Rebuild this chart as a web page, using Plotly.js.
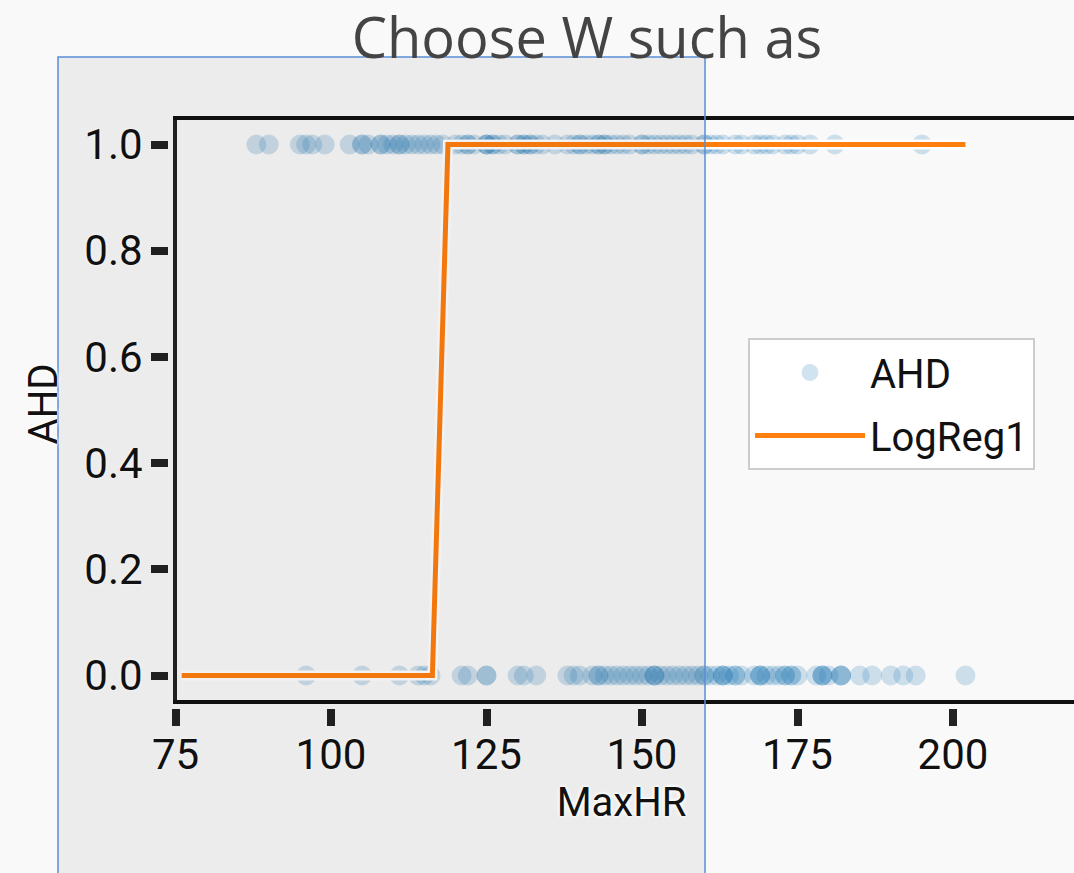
<!DOCTYPE html>
<html>
<head>
<meta charset="utf-8">
<script src="https://cdn.plot.ly/plotly-3.0.1.min.js"></script>
<style>html,body{margin:0;padding:0;background:#f9f9f9;}#chart{width:1074px;height:873px;}</style>
</head>
<body>
<div id="chart"></div>
<script>
// MaxHR of patients with AHD = Yes (plotted at 1.0)
var maxhr_ahd_yes = [88, 90, 95, 96, 97, 99, 103, 105, 105, 106, 108, 108, 109, 110, 111, 111, 112, 113, 114, 115, 116, 117, 118,
  120, 121, 122, 122, 123, 125, 125, 125, 126, 126, 127, 128, 130, 130, 131, 131, 132, 132, 133, 134, 136, 138, 139, 140, 140,
  141, 142, 143, 143, 144, 144, 145, 146, 147, 148, 150, 150, 151, 152, 153, 154, 155, 156, 157, 158, 160, 160, 161, 162, 163,
  165, 166, 168, 169, 170, 171, 173, 174, 175, 177, 181, 195];
// MaxHR of patients with AHD = No (plotted at 0.0)
var maxhr_ahd_no = [96, 105, 111, 114, 115, 116, 121, 122, 125, 125, 130, 131, 133, 138, 139, 140, 142, 143, 143, 144, 145, 146,
  147, 148, 149, 150, 151, 152, 152, 152, 153, 154, 155, 156, 157, 158, 159, 160, 160, 161, 162, 163, 163, 163, 164, 165, 165,
  166, 168, 169, 169, 169, 170, 171, 172, 173, 173, 174, 174, 175, 178, 179, 179, 179, 180, 182, 182, 182, 185, 187, 190, 192, 194, 202];
// LogReg1 fitted curve
var logreg_x = [76, 116.3, 118.8, 202];
var logreg_y = [0, 0, 1, 1];
// Tick values
var x_ticks = [75, 100, 125, 150, 175, 200];
var y_ticks = [0.0, 0.2, 0.4, 0.6, 0.8, 1.0];

var FONT = 'Roboto, "DejaVu Sans", sans-serif';
var HALO = '0 0 4px #ffffff, 0 0 4px #ffffff, 0 0 2px #ffffff';

var ptsX = maxhr_ahd_yes.concat(maxhr_ahd_no);
var ptsY = maxhr_ahd_yes.map(function(){return 1;}).concat(maxhr_ahd_no.map(function(){return 0;}));

var traces = [
  {type:'scatter', mode:'markers', name:'AHD', legendgroup:'a', x:ptsX, y:ptsY,
   marker:{size:19, color:'#1f77b4', opacity:0.2, line:{color:'#1f77b4', width:1}}, hoverinfo:'skip'},
  {type:'scatter', mode:'lines', name:'halo', legendgroup:'b', showlegend:false, x:logreg_x, y:logreg_y,
   line:{color:'#ffffff', width:10}, hoverinfo:'skip'},
  {type:'scatter', mode:'lines', name:'LogReg1', legendgroup:'b', x:logreg_x, y:logreg_y,
   line:{color:'#ff7f0e', width:5}, hoverinfo:'skip'}
];

var W = 905, H = 608, L = 169, B = 708;
function px(v){return (v - L)/W;}
function py(v){return (B - v)/H;}

var layout = {
  width:1074, height:873,
  paper_bgcolor:'#f9f9f9', plot_bgcolor:'#f9f9f9',
  margin:{l:169, r:0, t:100, b:165, pad:0},
  showlegend:true,
  title:{text:'Choose W such as', font:{family:'"Open Sans", sans-serif', size:56, color:'#444444'},
         xref:'container', x:587/1074, xanchor:'center', yref:'container', y:0.978, yanchor:'top'},
  xaxis:{range:[73.955, 219.45], tickvals:x_ticks, ticks:'outside', ticklen:17, tickwidth:8, tickcolor:'#222222',
         showline:false, showgrid:false, zeroline:false, ticklabelstandoff:-7,
         tickfont:{family:FONT, size:42, color:'#111111', shadow:HALO},
         title:{text:'MaxHR', standoff:7, font:{family:FONT, size:40, color:'#111111', shadow:HALO}}},
  yaxis:{range:[-0.0612, 1.0838], tickvals:y_ticks, tickformat:'.1f', ticks:'outside', ticklen:17, tickwidth:8, tickcolor:'#222222',
         showline:false, showgrid:false, zeroline:false, ticklabelstandoff:0,
         tickfont:{family:FONT, size:42, color:'#111111', shadow:HALO},
         title:{text:'AHD', standoff:14, font:{family:FONT, size:40, color:'#111111', shadow:HALO}}},
  legend:{x:px(748), y:py(338), xanchor:'left', yanchor:'top', bgcolor:'#ffffff', bordercolor:'#cccccc', borderwidth:2,
          itemwidth:110, tracegroupgap:8, font:{family:FONT, size:40, color:'#111111'}},
  shapes:[
    {type:'line', xref:'paper', yref:'paper', layer:'above', x0:px(175), x1:px(175), y0:py(703), y1:py(118), line:{color:'#222222', width:4}},
    {type:'line', xref:'paper', yref:'paper', layer:'above', x0:px(173), x1:1.01, y0:py(702), y1:py(702), line:{color:'#111111', width:4}},
    {type:'line', xref:'paper', yref:'paper', layer:'above', x0:px(173), x1:1.01, y0:py(118), y1:py(118), line:{color:'#111111', width:4}},
    {type:'rect', xref:'paper', yref:'paper', layer:'above', x0:px(58), x1:px(705), y0:py(880), y1:py(57),
     fillcolor:'rgba(0,0,0,0.05)', line:{color:'#5b8fd6', width:1.5}}
  ]
};

Plotly.newPlot('chart', traces, layout, {displayModeBar:false, staticPlot:true});
</script>
</body>
</html>
